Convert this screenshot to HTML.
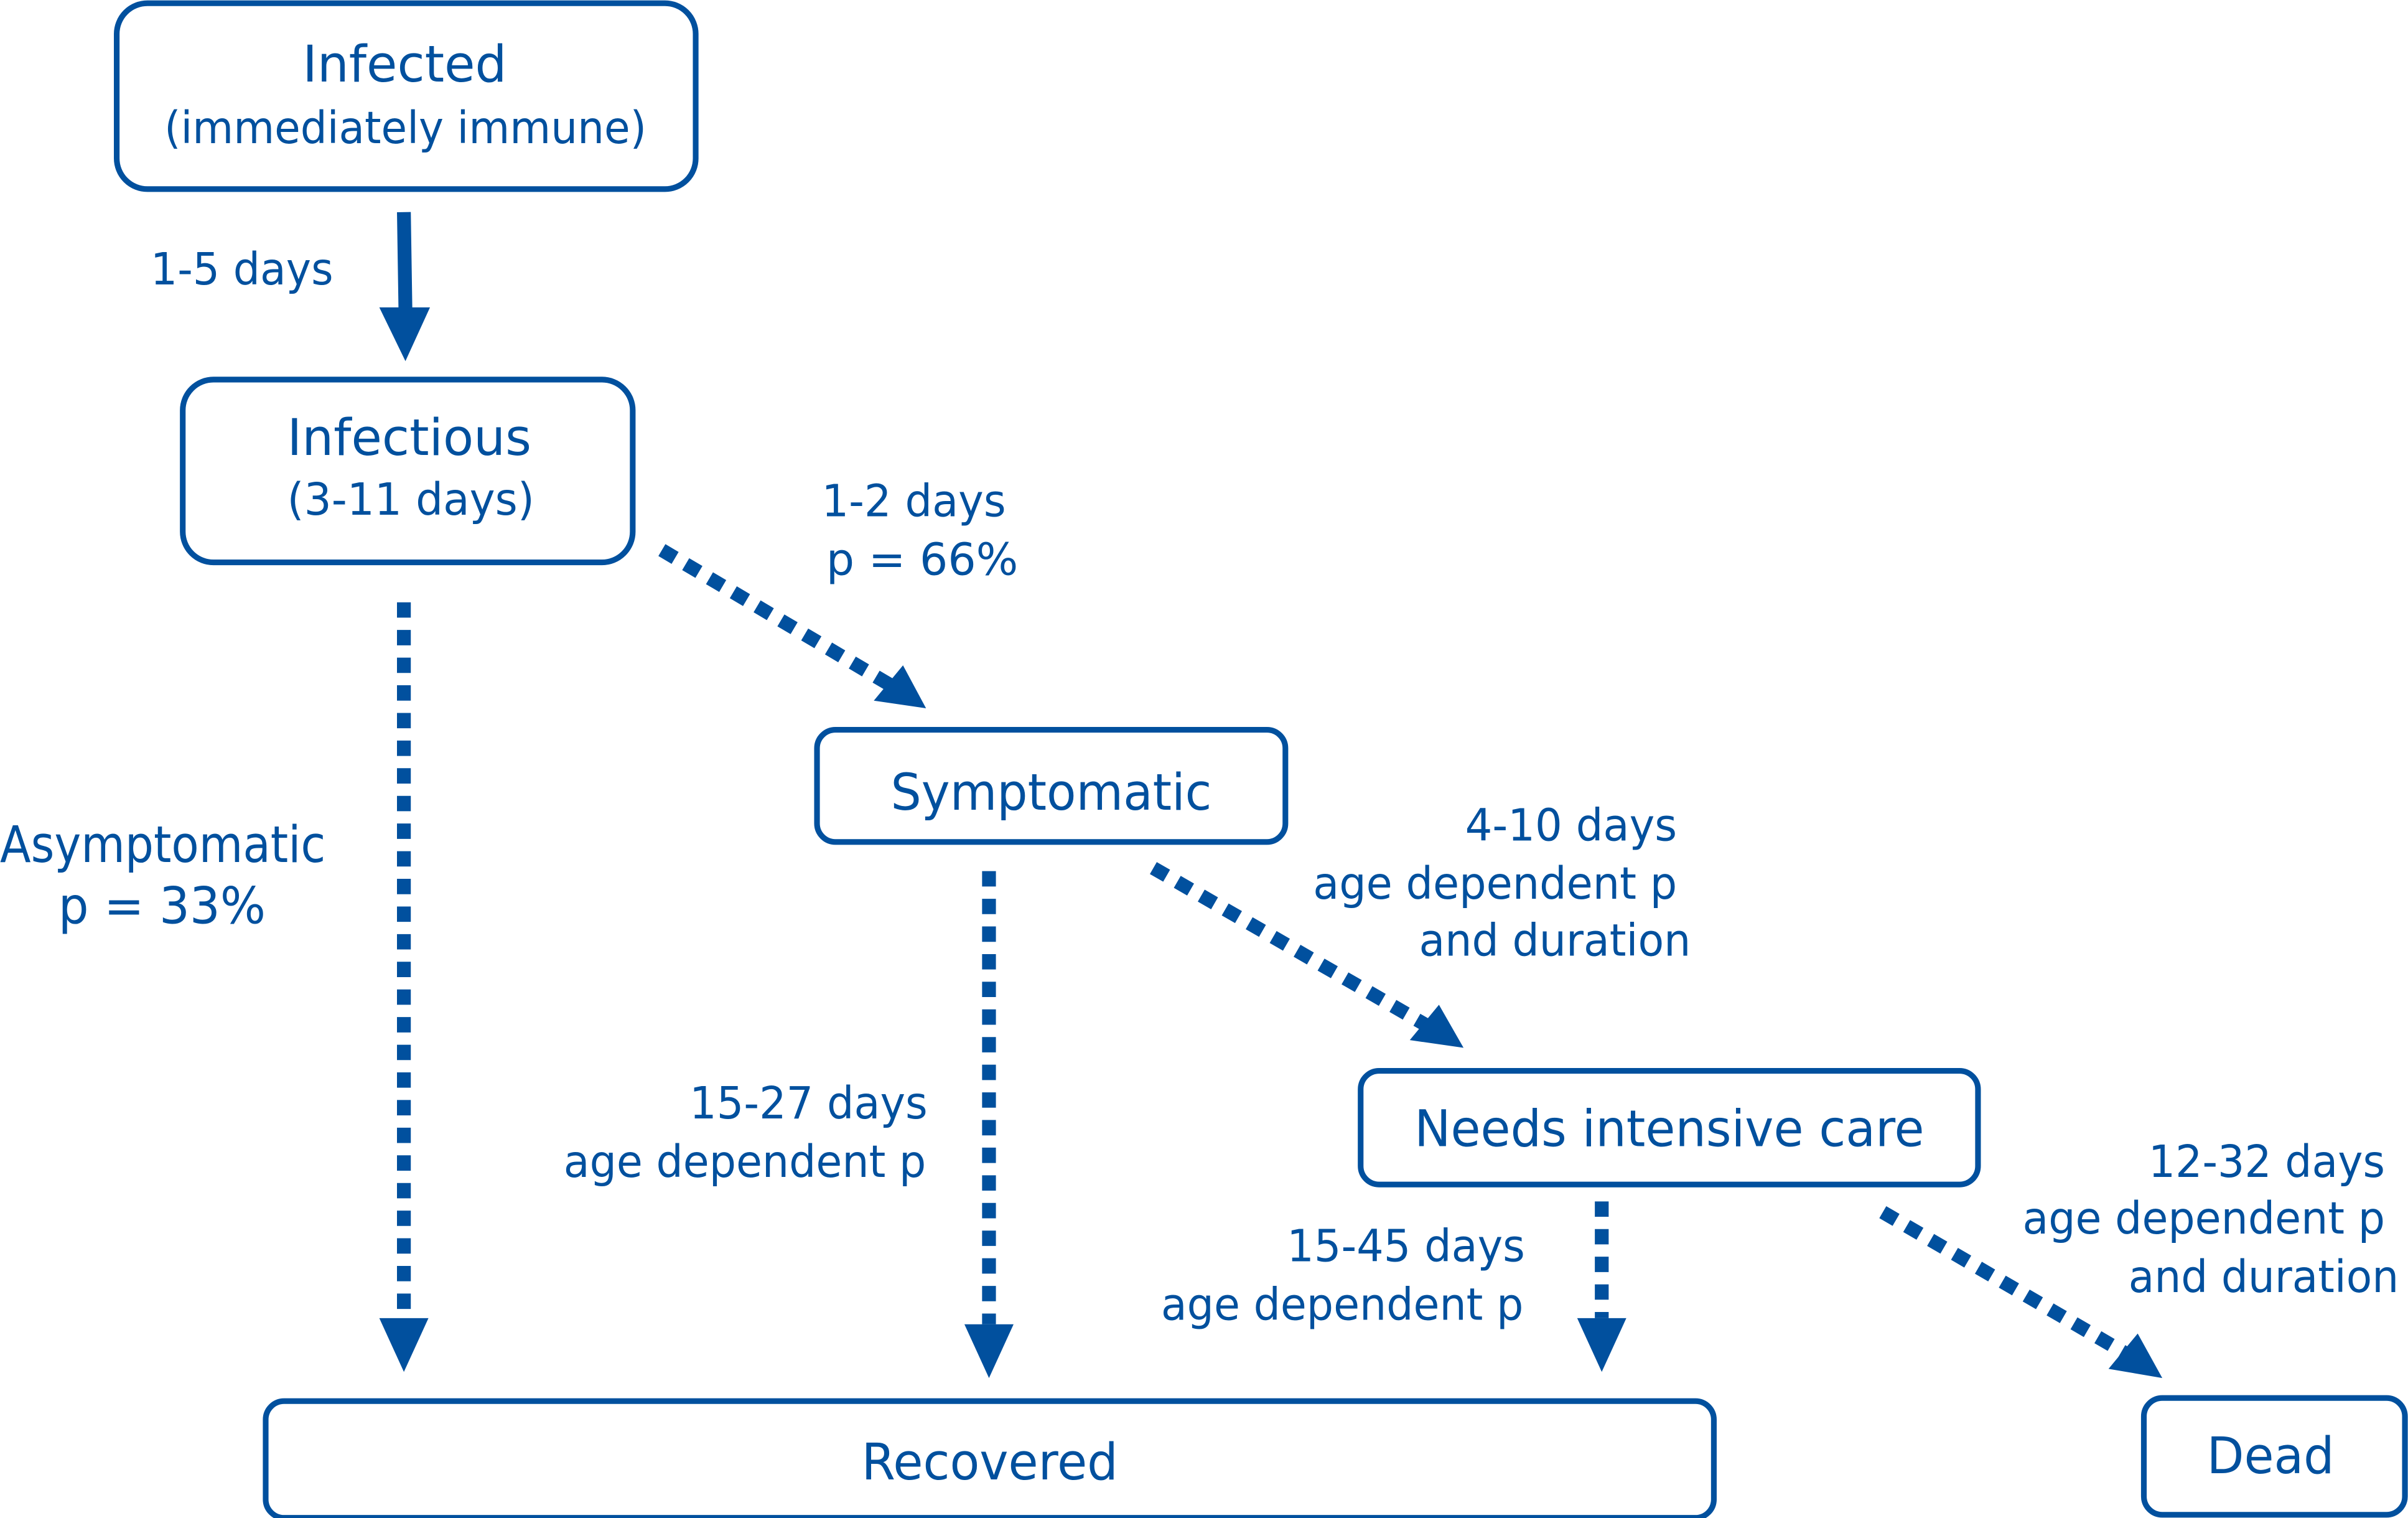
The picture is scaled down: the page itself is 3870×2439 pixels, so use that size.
<!DOCTYPE html>
<html><head><meta charset="utf-8"><style>
html,body{margin:0;padding:0;background:#fff}
svg{display:block}
text{font-family:"DejaVu Sans","Liberation Sans",sans-serif;fill:#01509e}
</style></head><body>
<svg width="3870" height="2439" viewBox="0 0 1568 988" xmlns="http://www.w3.org/2000/svg">
<defs>
<marker id="ah" markerWidth="8" markerHeight="8" refX="0" refY="4" orient="auto" markerUnits="userSpaceOnUse" viewBox="0 0 8 8"></marker>
</defs>
<g fill="none" stroke="#01509e" stroke-width="3.7">
<rect x="76" y="2" width="377" height="121" rx="20"/>
<rect x="119" y="247" width="293" height="119" rx="20"/>
<rect x="532" y="475" width="305" height="73" rx="12"/>
<rect x="886" y="697" width="402" height="74" rx="12"/>
<rect x="173" y="912" width="943" height="76" rx="12"/>
<rect x="1396" y="910" width="170" height="76" rx="12"/>
</g>
<g stroke="#01509e" stroke-width="9" fill="none">
<line x1="263" y1="138" x2="264" y2="202"/>
<g stroke-dasharray="10 8">
<line x1="263" y1="392" x2="263" y2="858"/>
<line x1="431" y1="358" x2="580" y2="446"/>
<line x1="644" y1="567" x2="644" y2="862"/>
<line x1="751" y1="565" x2="930" y2="668"/>
<line x1="1043" y1="782" x2="1043" y2="858"/>
<line x1="1226" y1="789" x2="1386" y2="882"/>
</g>
</g>
<g fill="#01509e">
<polygon points="247,200 280,200 264,235"/>
<polygon points="247,858 279,858 263,893"/>
<polygon points="569,456 588,433 603,461"/>
<polygon points="628,862 660,862 644,897"/>
<polygon points="918,677 937,654 953,682"/>
<polygon points="1027,858 1059,858 1043,893"/>
<polygon points="1373,891 1392,868 1408,897"/>
</g>
<g font-size="33">
<text x="197" y="53" textLength="133" lengthAdjust="spacingAndGlyphs">Infected</text>
<text x="187" y="296" textLength="159" lengthAdjust="spacingAndGlyphs">Infectious</text>
<text x="580" y="527" textLength="209" lengthAdjust="spacingAndGlyphs">Symptomatic</text>
<text x="921" y="746" textLength="332" lengthAdjust="spacingAndGlyphs">Needs intensive care</text>
<text x="561" y="963" textLength="167" lengthAdjust="spacingAndGlyphs">Recovered</text>
<text x="1437" y="959" textLength="83" lengthAdjust="spacingAndGlyphs">Dead</text>
<text x="0" y="561" textLength="212" lengthAdjust="spacingAndGlyphs">Asymptomatic</text>
<text x="38" y="601" textLength="135" lengthAdjust="spacingAndGlyphs">p = 33%</text>
</g>
<g font-size="29">
<text x="107" y="93" textLength="314" lengthAdjust="spacingAndGlyphs">(immediately immune)</text>
<text x="187" y="335" textLength="161" lengthAdjust="spacingAndGlyphs">(3-11 days)</text>
<text x="98" y="185" textLength="119" lengthAdjust="spacingAndGlyphs">1-5 days</text>
<text x="535" y="336" textLength="120" lengthAdjust="spacingAndGlyphs">1-2 days</text>
<text x="538" y="374" textLength="125" lengthAdjust="spacingAndGlyphs">p = 66%</text>
<text x="954" y="547" textLength="138" lengthAdjust="spacingAndGlyphs">4-10 days</text>
<text x="855" y="585" textLength="237" lengthAdjust="spacingAndGlyphs">age dependent p</text>
<text x="924" y="622" textLength="177" lengthAdjust="spacingAndGlyphs">and duration</text>
<text x="449" y="728" textLength="155" lengthAdjust="spacingAndGlyphs">15-27 days</text>
<text x="367" y="766" textLength="236" lengthAdjust="spacingAndGlyphs">age dependent p</text>
<text x="838" y="821" textLength="155" lengthAdjust="spacingAndGlyphs">15-45 days</text>
<text x="756" y="859" textLength="236" lengthAdjust="spacingAndGlyphs">age dependent p</text>
<text x="1399" y="766" textLength="154" lengthAdjust="spacingAndGlyphs">12-32 days</text>
<text x="1317" y="803" textLength="236" lengthAdjust="spacingAndGlyphs">age dependent p</text>
<text x="1386" y="841" textLength="176" lengthAdjust="spacingAndGlyphs">and duration</text>
</g>
</svg>
</body></html>
